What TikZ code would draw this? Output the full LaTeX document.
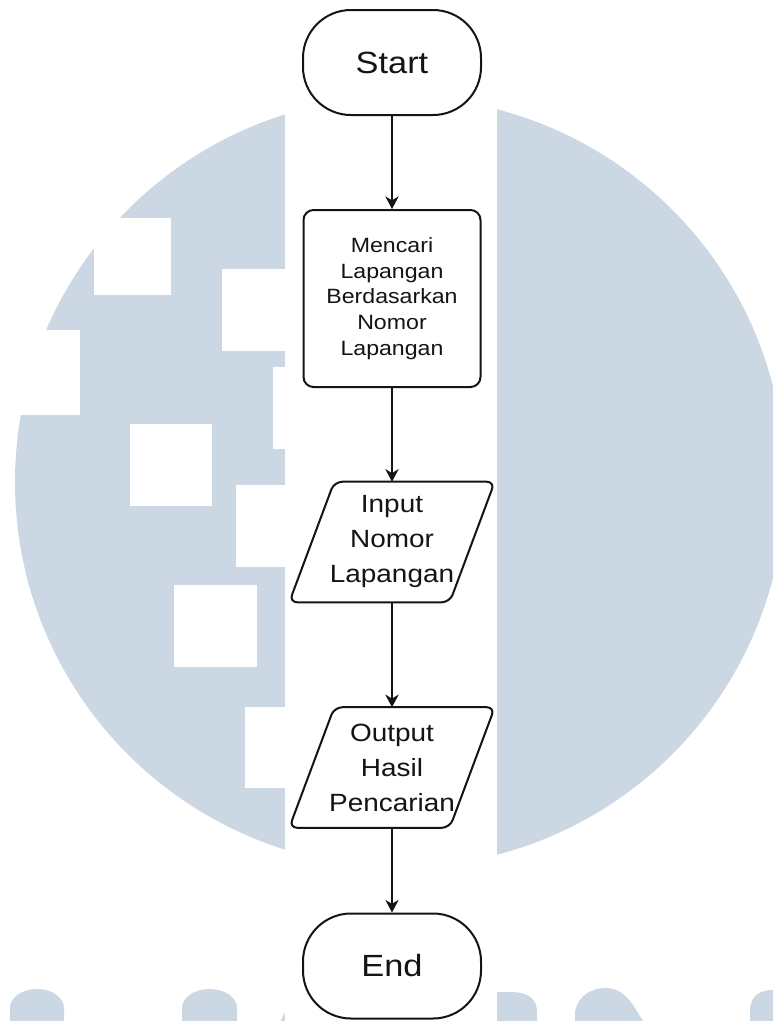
\documentclass[tikz,border=0pt]{standalone}
\usepackage{fontspec}
\setmainfont{Liberation Sans}[FakeStretch=1.12]
\usetikzlibrary{arrows.meta}
\definecolor{wmblue}{RGB}{203,216,227}
\definecolor{ink}{RGB}{20,20,20}

\begin{document}
\begin{tikzpicture}[x=0.75pt,y=-0.75pt,
  every node/.append style={text=ink},
  term/.style={draw=ink, line width=1.5pt, rounded corners=36pt,
    minimum width=133.5pt, minimum height=78.75pt, inner sep=0pt,
    font=\fontsize{23}{28}\selectfont},
  procbox/.style={draw=ink, line width=1.5pt, rounded corners=7.5pt,
    minimum width=132.75pt, minimum height=132.75pt, inner sep=0pt,
    align=center, font=\fontsize{15.5}{19.3}\selectfont},
  iobox/.style={minimum width=153.75pt, minimum height=90pt, inner sep=0pt,
    align=center, font=\fontsize{18.7}{26.25}\selectfont},
  ioedge/.style={draw=ink, line width=1.5pt, rounded corners=6pt},
  flow/.style={draw=ink, line width=1pt,
    -{Stealth[length=9.5pt,width=10pt,inset=3pt]}},
  hole/.style={fill=white},
  mark shape/.style={fill=wmblue}
]
\clip (0,0) rectangle (773,1021);
\fill[white] (0,0) rectangle (773,1021);

% background emblem
\fill[mark shape] (400,482) circle[radius=385];
\fill[hole] (94,218) rectangle (171,295);
\fill[hole] (0,330) rectangle (80,415);
\fill[hole] (222,269) rectangle (285,351);
\fill[hole] (273,367) rectangle (285,449);
\fill[hole] (130,424) rectangle (212,506);
\fill[hole] (236,485) rectangle (285,567);
\fill[hole] (174,585) rectangle (257,667);
\fill[hole] (245,707) rectangle (285,788);

% lettering along the bottom edge
\fill[mark shape] (10,1021) -- (10,1008) arc[start angle=180, end angle=360, x radius=27, y radius=19] -- (64,1021) -- cycle;
\fill[mark shape] (182,1021) -- (182,1008) arc[start angle=180, end angle=360, x radius=27.5, y radius=19] -- (237,1021) -- cycle;
\fill[mark shape] (310,1040) ellipse[x radius=33, y radius=42];
\fill[mark shape] (490,1021) -- (490,992) -- (510,992) .. controls (530,992) and (537,1000) .. (537,1012) -- (537,1021) -- cycle;
\fill[mark shape] (575,1021) -- (575,1012) .. controls (578,995) and (592,988) .. (606,988) .. controls (618,988) and (626,995) .. (633,1005) -- (643,1021) -- cycle;
\fill[mark shape] (750,1021) -- (750,1008) .. controls (752,995) and (760,990) .. (773,990) -- (773,1021) -- cycle;

% central white band
\fill[white] (285,0) rectangle (497,1021);

% flowchart
\node[term] (start) at (392,62.5) {Start};
\node[procbox] (proc) at (392,298.5) {Mencari\\Lapangan\\Berdasarkan\\Nomor\\Lapangan};
\node[iobox] (inp) at (392,542) {Input\\Nomor\\Lapangan};
\draw[ioedge] ([xshift=33.75pt]inp.north west) -- (inp.north east)
  -- ([xshift=-33.75pt]inp.south east) -- (inp.south west) -- cycle;
\node[iobox] (outp) at (392,767.5) {Output\\Hasil\\Pencarian};
\draw[ioedge] ([xshift=33.75pt]outp.north west) -- (outp.north east)
  -- ([xshift=-33.75pt]outp.south east) -- (outp.south west) -- cycle;
\node[term] (stop) at (392,966) {End};

\draw[flow] (start) -- (proc);
\draw[flow] (proc) -- (inp);
\draw[flow] (inp) -- (outp);
\draw[flow] (outp) -- (stop);
\end{tikzpicture}
\end{document}
